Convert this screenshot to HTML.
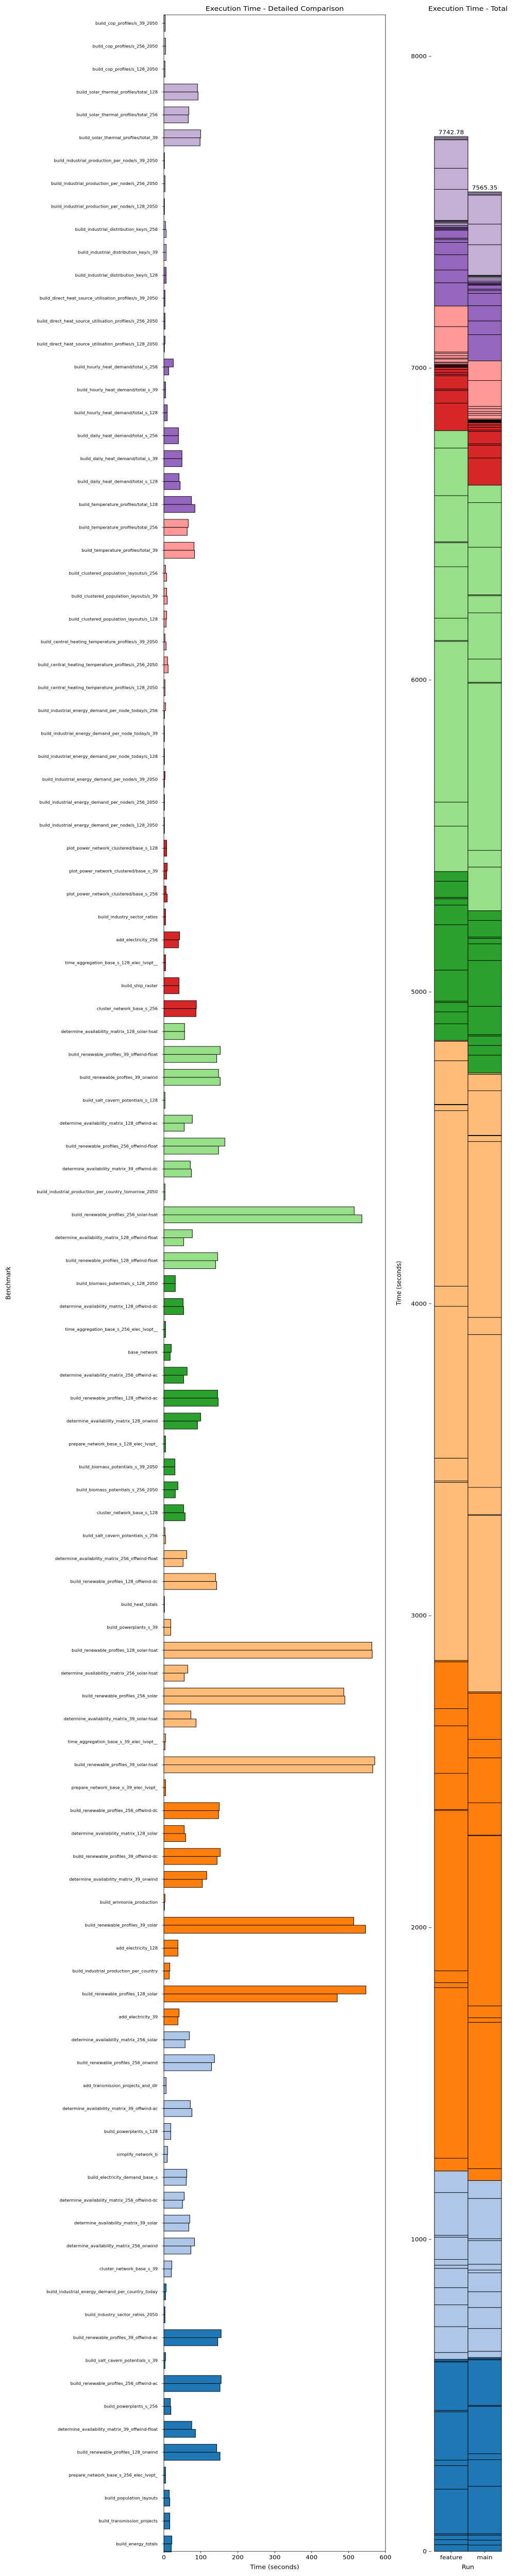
<!DOCTYPE html>
<html>
<head>
<meta charset="utf-8">
<style>
  html,body{margin:0;padding:0;background:#fff;overflow:hidden;width:100%;height:100%;}
  svg{position:fixed;left:0;top:0;display:block;width:100vw;height:100vh;font-family:"DejaVu Sans","Liberation Sans",sans-serif;}
</style>
</head>
<body>
<svg id="chart" xmlns="http://www.w3.org/2000/svg" viewBox="0 0 1009 5540" preserveAspectRatio="none">
  <rect x="0" y="0" width="1009" height="5540" fill="#fff"></rect>
  <g id="left"></g>
  <g id="right"></g>
</svg>
<script>
const benchmarks = [
"build_cop_profiles/s_39_2050","build_cop_profiles/s_256_2050","build_cop_profiles/s_128_2050",
"build_solar_thermal_profiles/total_128","build_solar_thermal_profiles/total_256","build_solar_thermal_profiles/total_39",
"build_industrial_production_per_node/s_39_2050","build_industrial_production_per_node/s_256_2050","build_industrial_production_per_node/s_128_2050",
"build_industrial_distribution_key/s_256","build_industrial_distribution_key/s_39","build_industrial_distribution_key/s_128",
"build_direct_heat_source_utilisation_profiles/s_39_2050","build_direct_heat_source_utilisation_profiles/s_256_2050","build_direct_heat_source_utilisation_profiles/s_128_2050",
"build_hourly_heat_demand/total_s_256","build_hourly_heat_demand/total_s_39","build_hourly_heat_demand/total_s_128",
"build_daily_heat_demand/total_s_256","build_daily_heat_demand/total_s_39","build_daily_heat_demand/total_s_128",
"build_temperature_profiles/total_128","build_temperature_profiles/total_256","build_temperature_profiles/total_39",
"build_clustered_population_layouts/s_256","build_clustered_population_layouts/s_39","build_clustered_population_layouts/s_128",
"build_central_heating_temperature_profiles/s_39_2050","build_central_heating_temperature_profiles/s_256_2050","build_central_heating_temperature_profiles/s_128_2050",
"build_industrial_energy_demand_per_node_today/s_256","build_industrial_energy_demand_per_node_today/s_39","build_industrial_energy_demand_per_node_today/s_128",
"build_industrial_energy_demand_per_node/s_39_2050","build_industrial_energy_demand_per_node/s_256_2050","build_industrial_energy_demand_per_node/s_128_2050",
"plot_power_network_clustered/base_s_128","plot_power_network_clustered/base_s_39","plot_power_network_clustered/base_s_256",
"build_industry_sector_ratios","add_electricity_256","time_aggregation_base_s_128_elec_lvopt__","build_ship_raster",
"cluster_network_base_s_256","determine_availability_matrix_128_solar-hsat","build_renewable_profiles_39_offwind-float",
"build_renewable_profiles_39_onwind","build_salt_cavern_potentials_s_128","determine_availability_matrix_128_offwind-ac",
"build_renewable_profiles_256_offwind-float","determine_availability_matrix_39_offwind-dc","build_industrial_production_per_country_tomorrow_2050",
"build_renewable_profiles_256_solar-hsat","determine_availability_matrix_128_offwind-float","build_renewable_profiles_128_offwind-float",
"build_biomass_potentials_s_128_2050","determine_availability_matrix_128_offwind-dc","time_aggregation_base_s_256_elec_lvopt__",
"base_network","determine_availability_matrix_256_offwind-ac","build_renewable_profiles_128_offwind-ac",
"determine_availability_matrix_128_onwind","prepare_network_base_s_128_elec_lvopt_","build_biomass_potentials_s_39_2050",
"build_biomass_potentials_s_256_2050","cluster_network_base_s_128","build_salt_cavern_potentials_s_256",
"determine_availability_matrix_256_offwind-float","build_renewable_profiles_128_offwind-dc","build_heat_totals",
"build_powerplants_s_39","build_renewable_profiles_128_solar-hsat","determine_availability_matrix_256_solar-hsat",
"build_renewable_profiles_256_solar","determine_availability_matrix_39_solar-hsat","time_aggregation_base_s_39_elec_lvopt__",
"build_renewable_profiles_39_solar-hsat","prepare_network_base_s_39_elec_lvopt_","build_renewable_profiles_256_offwind-dc",
"determine_availability_matrix_128_solar","build_renewable_profiles_39_offwind-dc","determine_availability_matrix_39_onwind",
"build_ammonia_production","build_renewable_profiles_39_solar","add_electricity_128",
"build_industrial_production_per_country","build_renewable_profiles_128_solar","add_electricity_39",
"determine_availability_matrix_256_solar","build_renewable_profiles_256_onwind","add_transmission_projects_and_dlr",
"determine_availability_matrix_39_offwind-ac","build_powerplants_s_128","simplify_network_b",
"build_electricity_demand_base_s","determine_availability_matrix_256_offwind-dc","determine_availability_matrix_39_solar",
"determine_availability_matrix_256_onwind","cluster_network_base_s_39","build_industrial_energy_demand_per_country_today",
"build_industry_sector_ratios_2050","build_renewable_profiles_39_offwind-ac","build_salt_cavern_potentials_s_39",
"build_renewable_profiles_256_offwind-ac","build_powerplants_s_256","determine_availability_matrix_39_offwind-float",
"build_renewable_profiles_128_onwind","prepare_network_base_s_256_elec_lvopt_","build_population_layouts",
"build_transmission_projects","build_energy_totals"
];
const featureTimes = [
3.5,4.5,3,91,67.5,99.5,1.5,3,1.5,4.5,6,6,3,3,3,25.5,4.5,9,39.5,49,41,74.5,66,81.5,4.5,7.5,7.5,3,10,3,
4.5,1.5,1.5,3,1.5,1.5,7.5,9,6,4.5,42.5,4.5,41,88,56,152.5,148,3,77,165,71.5,3,515.28,77,145.5,31,52,4.5,20,63,
145.5,99.5,4.5,30,38,53.5,3,62,140,1.5,18.5,563,64.5,487,73,4.5,571,4.5,150,55,152.5,116,3,514,38,16,547,41,69,137,
6,71.5,18.5,10,62,55,70,83,21.5,6,3,155,4.5,155,17.5,75.5,143,4.5,14.5,16,21.5
];
const mainTimes = [
3.5,4.5,3,92.5,66,98,1.5,3,1.5,6,6,6,3,3,1.5,13,4.5,9,39.5,49,44,84,63,83,7.5,9,6,6,11.5,3,
1.5,1.5,1.5,1.5,1.5,1.5,7.5,7.5,9,4.5,39.5,4.5,41,87,56,143,152.5,3,55,148,74.5,3,536,53.5,140,31,53.5,4.5,17,53.5,
147,91,4.5,30,31,57.5,4.5,52,143,1.5,18.5,564,55,490,87,3,565.5,4.5,148,59,144,104,1.5,546,38,14.5,469.35,38,57.5,129,
6,76,18.5,9,60.5,50.5,67.5,73,20,4.5,3,146,3,152,19,85.5,152,4.5,16,16,20
];
const colorGroup = [
0,0,0,0,0,0,0,0,0,0,0, 1,1,1,1,1,1,1,1,1,1,1, 2,2,2,2,2,2,2,2,2,2,2, 3,3,3,3,3,3,3,3,3,3,3,
4,4,4,4,4,4,4,4,4,4,4, 5,5,5,5,5,5,5,5,5,5,5, 6,6,6,6,6,6,6,6,6,6,6, 7,7,7,7,7,7,7,7,7,7,7,
8,8,8,8,8,8,8,8,8,8,8, 9,9,9,9,9,9,9,9,9,9,9,9
];
const runs = ["feature","main"];
const xTicks = [0,100,200,300,400,500,600];
const yTicksTotal = [0,1000,2000,3000,4000,5000,6000,7000,8000];
const palette = ["#c5b0d5","#9467bd","#ff9896","#d62728","#98df8a","#2ca02c","#ffbb78","#ff7f0e","#aec7e8","#1f77b4"];

const NS = "http://www.w3.org/2000/svg";
function mk(tag, attrs, parent, text){
  const e = document.createElementNS(NS, tag);
  for (const k in attrs) e.setAttribute(k, attrs[k]);
  if (text !== undefined) e.textContent = text;
  parent.appendChild(e);
  return e;
}

/* ---------- left chart ---------- */
const L = document.getElementById('left');
const axL = 318, axR = 748, axT = 32, axB = 5487;
const n = benchmarks.length;
const rowStep = (5471 - 50) / (n - 1);
const xScale = v => axL + v * (axR - axL) / 600;
const yCenter = i => 50 + i * rowStep;
const barH = rowStep * 0.35;

const t1 = mk('text', {x:(axL+axR)/2, y:23, 'text-anchor':'middle', 'font-size':'14', fill:'#000'}, L, 'Execution Time - Detailed Comparison');



for (let i = 0; i < n; i++){
  const yc = yCenter(i);
  const c = palette[colorGroup[i]];
  const b1 = mk('rect', {x:axL, y:yc-barH, width:Math.max(0.5, xScale(featureTimes[i])-axL), height:barH, fill:c, stroke:'#000', 'stroke-width':'1'}, L);
  
  
  const b2 = mk('rect', {x:axL, y:yc, width:Math.max(0.5, xScale(mainTimes[i])-axL), height:barH, fill:c, stroke:'#000', 'stroke-width':'1'}, L);
  
  
  const tk = mk('line', {x1:axL-3.5, x2:axL, y1:yc, y2:yc, stroke:'#000', 'stroke-width':'0.8'}, L);
  
  
  const lb = mk('text', {x:axL-12, y:yc+3, 'text-anchor':'end', 'font-size':'8.3', fill:'#000'}, L, benchmarks[i]);
  
  
}
const frame = mk('rect', {x:axL, y:axT, width:axR-axL, height:axB-axT, fill:'none', stroke:'#000', 'stroke-width':'0.8'}, L);


for (const t of xTicks){
  const x = xScale(t);
  const tl = mk('line', {x1:x, x2:x, y1:axB, y2:axB+3.5, stroke:'#000', 'stroke-width':'0.8'}, L);
  
  
  const tt = mk('text', {x:x, y:axB+17, 'text-anchor':'middle', 'font-size':'12', fill:'#000'}, L, String(t));
  
  
}
const xl = mk('text', {x:(axL+axR)/2, y:axB+38, 'text-anchor':'middle', 'font-size':'12.5', fill:'#000'}, L, 'Time (seconds)');


const yl = mk('text', {x:0, y:0, 'text-anchor':'middle', 'font-size':'12.5', fill:'#000', transform:'translate(20,'+((axT+axB)/2)+') rotate(-90)'}, L, 'Benchmark');



/* ---------- right chart ---------- */
const R = document.getElementById('right');
const rBottom = 5487, rPxPerUnit = (5487 - 121) / 8000;
const yR = v => rBottom - v * rPxPerUnit;
const barLeft = [843, 908], barW = 65;
const series = [featureTimes, mainTimes];

const t2 = mk('text', {x:908, y:23, 'text-anchor':'middle', 'font-size':'14', fill:'#000'}, R, 'Execution Time - Total');



for (let r = 0; r < runs.length; r++){
  let acc = 0;
  for (let i = n - 1; i >= 0; i--){
    const v = series[r][i];
    const y0 = yR(acc), y1 = yR(acc + v);
    const s = mk('rect', {x:barLeft[r], y:y1, width:barW, height:Math.max(0.01, y0-y1), fill:palette[colorGroup[i]], stroke:'#000', 'stroke-width':'1'}, R);
    
    
    acc += v;
  }
  const tot = mk('text', {x:barLeft[r]+barW/2, y:yR(acc)-5, 'text-anchor':'middle', 'font-size':'12', fill:'#000'}, R, acc.toFixed(2));
  
  
  const cx = barLeft[r] + barW/2;
  const xt = mk('line', {x1:cx, x2:cx, y1:rBottom, y2:rBottom+3.5, stroke:'#000', 'stroke-width':'0.8'}, R);
  
  
  const xtl = mk('text', {x:cx, y:rBottom+17, 'text-anchor':'middle', 'font-size':'12', fill:'#000'}, R, runs[r]);
  
  
}
for (const t of yTicksTotal){
  const y = yR(t);
  const tl = mk('line', {x1:832, x2:837, y1:y, y2:y, stroke:'#000', 'stroke-width':'0.8'}, R);
  
  
  const tt = mk('text', {x:828, y:y+4, 'text-anchor':'end', 'font-size':'12', fill:'#000'}, R, String(t));
  
  
}
const rx = mk('text', {x:908, y:rBottom+38, 'text-anchor':'middle', 'font-size':'12.5', fill:'#000'}, R, 'Run');


const ry = mk('text', {x:0, y:0, 'text-anchor':'middle', 'font-size':'12.5', fill:'#000', transform:'translate(778,'+((axT+axB)/2)+') rotate(-90)'}, R, 'Time (seconds)');


</script>
</body>
</html>
